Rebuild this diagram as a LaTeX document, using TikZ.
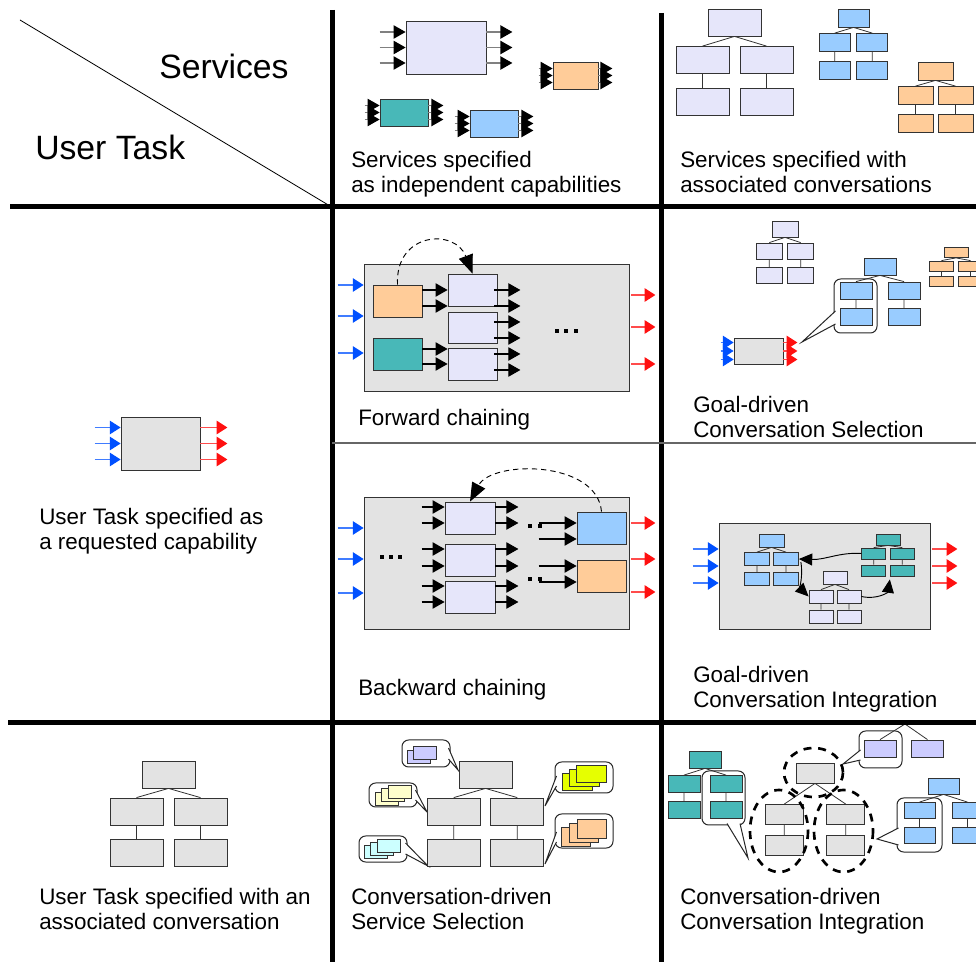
\documentclass[tikz,border=0pt]{standalone}
\usepackage{fontspec}
\setmainfont{Liberation Sans}
\usetikzlibrary{arrows.meta, calc, positioning}

\definecolor{lav}{HTML}{E6E6FA}
\definecolor{lavdeep}{HTML}{CCCCFF}
\definecolor{peach}{HTML}{FFCC99}
\definecolor{tealbox}{HTML}{48B8B8}
\definecolor{sky}{HTML}{99CCFF}
\definecolor{task}{HTML}{E3E3E3}
\definecolor{cream}{HTML}{FFFFCC}
\definecolor{limebox}{HTML}{E6FF00}
\definecolor{ice}{HTML}{CCFFFF}
\definecolor{inblue}{HTML}{0050FF}
\definecolor{outred}{HTML}{FF1010}

\tikzset{
		bw/.style={minimum width=#1*0.75pt},
		bh/.style={minimum height=#1*0.75pt},
		box/.style={draw=black!80, line width=0.6pt, inner sep=0pt, fill=#1},
		tie/.style={draw=black!80, line width=0.6pt},
		feed/.style={draw=black!50, line width=0.9pt, -{Triangle[length=9pt,width=10pt,color=black]}},
		link/.style={draw=black, line width=0.8pt, -{Triangle[length=9pt,width=10pt]}},
		inarr/.style={draw=inblue!75, line width=0.9pt, -{Triangle[length=8pt,width=10pt,color=inblue]}},
		outarr/.style={draw=outred!75, line width=0.9pt, -{Triangle[length=8pt,width=10pt,color=outred]}},
		chain/.style={dash pattern=on 4pt off 3pt, line width=0.7pt, -{Triangle[length=14pt,width=11pt]}},
		merge/.style={line width=0.7pt, -{Triangle[length=10pt,width=9pt]}},
		bubble/.style={draw=black!85, line width=0.75pt, rounded corners=5pt, fill=white},
		ring/.style={line width=2pt, dash pattern=on 6pt off 5pt},
		grid/.style={line width=3.75pt},
		caption/.style={anchor=north west, inner sep=0pt, align=left, font=\fontsize{16.8}{18.75}\selectfont},
		heading/.style={anchor=base west, inner sep=0pt, font=\fontsize{25.3}{30}\selectfont},
		pics/conv/.style n args={5}{code={
			\node[box=#5, bw=#1, bh=#2] (-r) at (0,0) {};
			\node[box=#5, bw=#1, bh=#2] (-a) at (-#3,#4) {};
			\node[box=#5, bw=#1, bh=#2] (-b) at (#3,#4) {};
			\node[box=#5, bw=#1, bh=#2] (-c) at (-#3,#4+1.55*#2) {};
			\node[box=#5, bw=#1, bh=#2] (-d) at (#3,#4+1.55*#2) {};
			\draw[tie] (-r.south) -- (-a.north) (-r.south) -- (-b.north) (-a) -- (-c) (-b) -- (-d);
		}},
		pics/svc/.style n args={5}{code={
			\node[box=#3, bw=#1, bh=#2] (-b) at (0,0) {};
			\foreach \s in {-1,0,1}{
				\draw[feed] ($(-b.west)+(-#5,\s*#4)$) -- ($(-b.west)+(0,\s*#4)$);
				\draw[feed] ($(-b.east)+(0,\s*#4)$) -- ++(#5,0);
			}
		}},
		pics/stack/.style n args={6}{code={
			\foreach \k in {1,...,#1}
				\node[box=#2, bw=#3, bh=#4] (-\k) at ({(\k-1)*#5},{(\k-1)*#6}) {};
		}}
	}

% rounded speech bubble: corner, corner, base point, base point, tip
\newcommand{\bubble}[5]{%
	\draw[bubble] #1 rectangle #2;
	\fill[white] #3 -- #5 -- #4 -- cycle;
	\draw[line width=0.75pt, black!85] #3 -- #5 -- #4;
}

\begin{document}
\begin{tikzpicture}[x=0.75pt, y=-0.75pt] % one unit = one pixel of the grid
		\useasboundingbox (0,0) rectangle (976,962);
		\clip (0,0) rectangle (976,962);

		% header cell
		\draw[line width=0.6pt] (20,20) -- (330,206);
		\node[heading] (hserv) at (159,79) {Services};
		\node[heading] (htask) at (35,160) {User Task};

		% services as capabilities
		\pic (s1) at (446,47.5) {svc={80}{53}{lav}{15.5}{26}};
		\pic (s2) at (575.5,75.5) {svc={45}{27}{peach}{7}{14}};
		\pic (s3) at (404,112.5) {svc={48}{27}{tealbox}{7}{15}};
		\pic (s4) at (494,123.5) {svc={48}{27}{sky}{7}{15}};
		\node[caption] (c12) at (351,151) {Services specified\\as independent capabilities};

		% services with conversations
		\pic (v1) at (734.5,22.5) {conv={53}{27}{32}{37.5}{lav}};
		\pic (v2) at (853.5,18) {conv={31}{18}{18.75}{24.5}{sky}};
		\pic (v3) at (935.5,71) {conv={35}{18}{20}{24.5}{peach}};
		\node[caption] (c13) at (680,151) {Services specified with\\associated conversations};

		% requested capability
		\node[box=task, bw=79, bh=53] (ut) at (160.5,443.5) {};
		\foreach \s in {-16,0,16}{
			\draw[inarr] (ut.west) ++(-26,\s) -- ++(26,0);
			\draw[outarr] (ut.east) ++(0,\s) -- ++(27,0);
		}
		\node[caption] (c21) at (39,508) {User Task specified as\\a requested capability};

		% forward chaining
		\node[box=task, bw=265, bh=127] (fwd) at (496.5,327.5) {};
		\node[box=peach, bw=49, bh=32] (fwd-o) at (397.5,301) {};
		\node[box=tealbox, bw=49, bh=32] (fwd-t) at (397.5,354) {};
		\node[box=lav, bw=49, bh=32] (fwd-1) at (472.5,290) {};
		\node[box=lav, bw=49, bh=31] (fwd-2) at (472.5,327.5) {};
		\node[box=lav, bw=49, bh=32] (fwd-3) at (472.5,364) {};
		\foreach \y in {290,306} \draw[link] (fwd-o.east |- 0,\y) -- (fwd-1.west |- 0,\y);
		\foreach \y in {349,364} \draw[link] (fwd-t.east |- 0,\y) -- (fwd-3.west |- 0,\y);
		\foreach \y in {290,306,322,338,354,370} \draw[link] (fwd-1.east |- 0,\y) ++(-3,0) -- ++(26,0);
		\foreach \x in {557,566,576} \fill (\x-2.3,328.7) rectangle ++(4.6,4.6);
		\draw[chain] (fwd-o.north) .. controls (395,232) and (455,228) .. (fwd-1.north);
		\foreach \y in {285,316,353} \draw[inarr] (fwd.west |- 0,\y) ++(-26,0) -- ++(26,0);
		\foreach \y in {295,327,364} \draw[outarr] (fwd.east |- 0,\y) ++(2,0) -- ++(24,0);
		\node[caption] (c22) at (358,409) {Forward chaining};

		% goal-driven selection
		\bubble{(834,279)}{(877,333)}{(835.5,311)}{(835.5,324)}{(802,342)}
		\pic (gs-l) at (785,229) {conv={26}{16}{15.7}{22}{lav}};
		\pic (gs-s) at (880,266.5) {conv={32}{17}{24}{24}{sky}};
		\pic (gs-o) at (956,252.5) {conv={24}{10}{14.5}{13.5}{peach}};
		\node[box=task, bw=49, bh=26] (gs-u) at (758.5,351) {};
		\foreach \s in {-8.5,0,8.5}{
			\draw[inarr] (gs-u.west) ++(-13,\s) -- ++(13,0);
			\draw[outarr] (gs-u.east) ++(0,\s) -- ++(14,0);
		}
		\node[caption] (c23) at (693,396) {Goal-driven\\Conversation Selection};

		% backward chaining
		\node[box=task, bw=265, bh=132] (bwd) at (496.5,563) {};
		\node[box=lav, bw=50, bh=32] (bwd-1) at (470,518) {};
		\node[box=lav, bw=50, bh=32] (bwd-2) at (470,560) {};
		\node[box=lav, bw=50, bh=32] (bwd-3) at (470,597) {};
		\node[box=sky, bw=49, bh=32] (bwd-s) at (601.5,528) {};
		\node[box=peach, bw=49, bh=32] (bwd-o) at (601.5,576) {};
		\foreach \y in {507,523,549,566,586,602}{
			\draw[link] (bwd-1.west |- 0,\y) ++(-23,0) -- ++(23,0);
			\draw[link] (bwd-1.east |- 0,\y) -- ++(23,0);
		}
		\foreach \y in {523,539} \draw[link] (bwd-s.west |- 0,\y) ++(-38,0) -- ++(38,0);
		\foreach \y in {566,582} \draw[link] (bwd-o.west |- 0,\y) ++(-38,0) -- ++(38,0);
		\foreach \x/\y in {530/526,540/526,530/579,540/579,382/557,391/557,400/557}
			\fill (\x-2.3,\y-2.3) rectangle ++(4.6,4.6);
		\draw[chain] (bwd-s.north) .. controls (597,460) and (492,460) .. (bwd-1.north);
		\foreach \y in {528,559,593} \draw[inarr] (bwd.west |- 0,\y) ++(-26,0) -- ++(26,0);
		\foreach \y in {523,559,592} \draw[outarr] (bwd.east |- 0,\y) ++(2,0) -- ++(24,0);
		\node[caption] (c32) at (358,679) {Backward chaining};

		% goal-driven integration
		\node[box=task, bw=211, bh=106] (gi) at (824.5,576) {};
		\pic (gi-s) at (771.5,540.5) {conv={25}{13}{14.5}{18.5}{sky}};
		\pic (gi-t) at (888,539.5) {conv={24}{11}{14.25}{14}{tealbox}};
		\pic (gi-l) at (835,577.5) {conv={24}{13}{14}{19}{lav}};
		\draw[merge] (gi-t-a.west) .. controls (840,552) and (825,560) .. (gi-s-b.east);
		\draw[merge] (gi-l-b.east) .. controls (878,600) and (888,592) .. ([shift={(0,3)}]gi-t-d.south west);
		\draw[merge] (gi-s-b.east) ++(2,3) .. controls (803,575) and (800,588) .. (gi-l-a.west);
		\foreach \y in {549,566,583}{
			\draw[inarr] (gi.west |- 0,\y) ++(-26,0) -- ++(26,0);
			\draw[outarr] (gi.east |- 0,\y) ++(2,0) -- ++(25,0);
		}
		\node[caption] (c33) at (693,666) {Goal-driven\\Conversation Integration};

		% task with conversation
		\pic (ct) at (168.5,774.5) {conv={53}{27}{32}{37}{task}};
		\node[caption] (c41) at (39,888) {User Task specified with an\\associated conversation};

		% conversation-driven selection
		\bubble{(402,740)}{(450,767)}{(448.5,748)}{(448.5,759)}{(458,770)}
		\bubble{(369,783)}{(417,807)}{(415.5,790)}{(415.5,800)}{(427,812)}
		\bubble{(359,836)}{(407,862)}{(405.5,843)}{(405.5,854)}{(428,866)}
		\bubble{(555,762)}{(613,793)}{(556.5,776)}{(556.5,786)}{(545,806)}
		\bubble{(555,814)}{(613,848)}{(556.5,832)}{(556.5,842)}{(545,864)}
		\pic (st-a) at (418.5,756.5) {stack={2}{lavdeep}{23}{13}{6}{-4}};
		\pic (st-b) at (386.5,798.5) {stack={3}{cream}{23}{13}{6.5}{-3.3}};
		\pic (st-c) at (375.5,851.5) {stack={3}{ice}{23}{13}{6.75}{-3}};
		\pic (st-d) at (577,781.5) {stack={3}{limebox}{30}{17}{7.25}{-4}};
		\pic (st-e) at (576,837) {stack={3}{peach}{29}{19}{7.75}{-4.25}};
		\pic (cs) at (485.5,774.5) {conv={53}{27}{31.75}{37}{task}};
		\node[caption] (c42) at (351,888) {Conversation-driven\\Service Selection};

		% conversation-driven integration
		\bubble{(702,771)}{(745,825)}{(727,823.5)}{(740,823.5)}{(748,858)}
		\bubble{(859,731)}{(902,768)}{(860.5,750)}{(860.5,760)}{(843,764)}
		\bubble{(897,798)}{(942,852)}{(898.5,828)}{(898.5,845)}{(877,839)}
		\pic (ci-t) at (705,759.5) {conv={32}{17}{21}{24.5}{tealbox}};
		\pic (ci-g) at (815,773) {conv={38}{20}{30.75}{41.5}{task}};
		\pic (ci-s) at (943.5,786) {conv={31}{16}{24}{24.5}{sky}};
		\coordinate (ci-lr) at (905,724);
		\node[box=lavdeep, bw=32, bh=17] (ci-l1) at (880,748.5) {};
		\node[box=lavdeep, bw=32, bh=17] (ci-l2) at (927.5,748.5) {};
		\draw[tie] (ci-lr) -- (ci-l1.north) (ci-lr) -- (ci-l2.north);
		\draw[ring] (813.5,772.5) ellipse [x radius=29.5, y radius=24.5];
		\draw[ring] (779,831) ellipse [x radius=29, y radius=41];
		\draw[ring] (843.5,831) ellipse [x radius=29.5, y radius=41];
		\node[caption] (c43) at (680,888) {Conversation-driven\\Conversation Integration};

		% grid
		\draw[grid] (332,10) -- (332,962);
		\draw[grid] (661,13) -- (661,962);
		\draw[grid] (10,207) -- (976,207);
		\draw[grid] (8,723) -- (976,723);
		\draw[black!60, line width=0.9pt] (332,443) -- (976,443);
	\end{tikzpicture}
\end{document}
